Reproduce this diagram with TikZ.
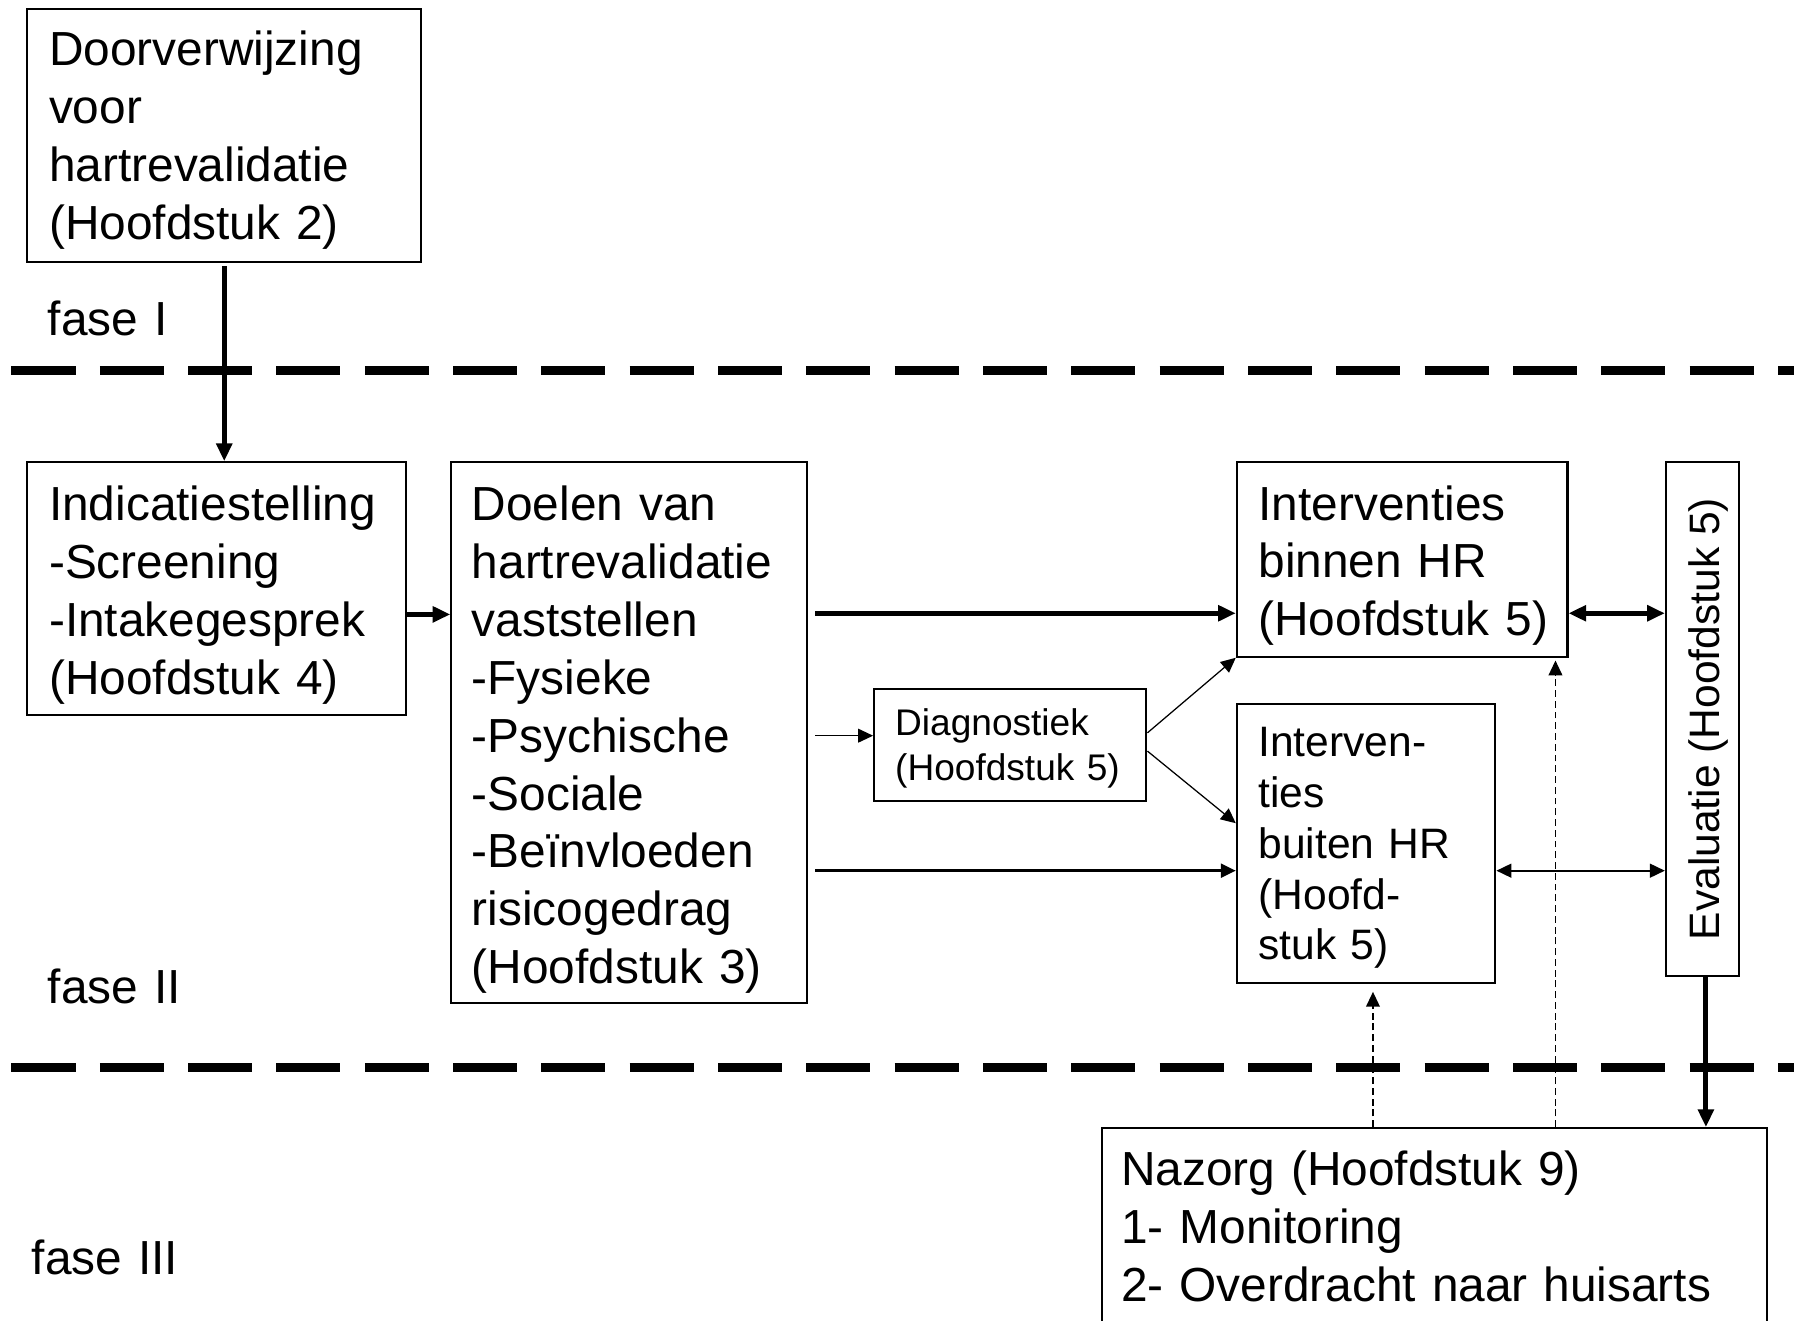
\documentclass[tikz,border=0pt]{standalone}
\usepackage{fontspec}
\setmainfont{Liberation Sans}
\usetikzlibrary{arrows.meta}
\newcommand\FontMain{\fontsize{20.9pt}{25.3pt}\selectfont}
\newcommand\FontMid{\fontsize{18.6pt}{22.25pt}\selectfont}
\newcommand\FontSmall{\fontsize{16.2pt}{19.5pt}\selectfont}
\tikzset{
  box/.style={draw, line width=0.9pt, inner sep=0pt, rectangle},
  txt/.style={inner sep=0pt, anchor=base west, align=left, text width=320pt, font=\FontMain},
  phaseline/.style={line width=4pt, dash pattern=on 28pt off 10.6pt},
  thickarrow/.style={line width=2.2pt, -{Triangle[length=7.75pt,width=6.75pt]}},
  thickboth/.style={line width=2.2pt, {Triangle[length=7.75pt,width=6.75pt]}-{Triangle[length=7.75pt,width=6.75pt]}},
  midarrow/.style={line width=1.1pt, -{Triangle[length=6.5pt,width=6pt]}},
  midboth/.style={line width=0.9pt, {Triangle[length=6.5pt,width=6pt]}-{Triangle[length=6.5pt,width=6pt]}},
  thinarrow/.style={line width=0.55pt, -{Triangle[length=6.5pt,width=6pt]}},
  dasharrow/.style={line width=0.65pt, dash pattern=on 3pt off 1.7pt, -{Triangle[length=6.5pt,width=6pt]}}
}
\begin{document}
\begin{tikzpicture}[x=0.5pt, y=-0.5pt]
\useasboundingbox (0,0) rectangle (1568,1154);
\clip (0,0) rectangle (1568,1154);

% phase separators
\draw[phaseline] (10,323.5) -- (1600,323.5);
\draw[phaseline] (10,933) -- (1600,933);

% phase labels
\node[txt] (f1) at (41.5,293) {fase I};
\node[txt] (f2) at (41.5,877) {fase II};
\node[txt] (f3) at (27.5,1113.5) {fase III};

% boxes
\node[box, minimum width=172pt, minimum height=110.5pt] (ref) at (196,118.5) {};
\node[box, minimum width=165.5pt, minimum height=110.5pt] (ind) at (189.5,514.5) {};
\node[box, minimum width=155.5pt, minimum height=236.5pt] (doel) at (550,640.5) {};
\node[box, minimum width=119pt, minimum height=49pt] (diag) at (883,651) {};
\node[box, minimum width=144.5pt, minimum height=85pt] (bin) at (1225.5,489) {};
\node[box, minimum width=113pt, minimum height=122pt] (bui) at (1194,737) {};
\node[box, minimum width=32pt, minimum height=224.5pt] (eval) at (1488,628.5) {};
\node[box, minimum width=290.5pt, minimum height=107pt] (naz) at (1253.5,1093) {};

% texts
\node[txt] (refT) at (42.5,57.5) {Doorverwijzing\\voor\\hartrevalidatie\\(Hoofdstuk 2)};
\node[txt] (indT) at (42.5,455) {Indicatiestelling\\-Screening\\-Intakegesprek\\(Hoofdstuk 4)};
\node[txt] (doelT) at (412,455) {Doelen van\\hartrevalidatie\\vaststellen\\-Fysieke\\-Psychische\\-Sociale\\-Beïnvloeden\\risicogedrag\\(Hoofdstuk 3)};
\node[txt, font=\FontSmall] (diagT) at (782,643) {Diagnostiek\\(Hoofdstuk 5)};
\node[txt] (binT) at (1099.5,454.5) {Interventies\\binnen HR\\(Hoofdstuk 5)};
\node[txt, font=\FontMid] (buiT) at (1099.5,661) {Interven-\\ties\\buiten HR\\(Hoofd-\\stuk 5)};
\node[rotate=90, anchor=base, inner sep=0pt, font=\FontMid] (evalT) at (1503,628.5) {Evaluatie (Hoofdstuk 5)};
\node[txt] (nazT) at (979.5,1036) {Nazorg (Hoofdstuk 9)\\1- Monitoring\\2- Overdracht naar huisarts};

% connectors
\draw[thickarrow, shorten <=1.3pt] (ref.south -| 196,0) -- (ind.north -| 196,0);
\draw[thickarrow] (ind.east |- 0,537) -- (doel.west |- 0,537);
\draw[thickarrow, shorten <=3pt] (doel.east |- 0,536) -- (bin.west |- 0,536);
\draw[thinarrow, shorten <=3pt] (doel.east |- 0,643) -- (diag.west |- 0,643);
\draw[midarrow, shorten <=3pt] (doel.east |- 0,761) -- (bui.west |- 0,761);
\draw[thinarrow] (diag.east |- 0,640.5) -- (bin.south west);
\draw[thinarrow] (diag.east |- 0,656.5) -- (bui.west |- 0,719.5);
\draw[thickboth] (bin.east |- 0,536) -- (eval.west |- 0,536);
\draw[midboth] (bui.east |- 0,761) -- (eval.west |- 0,761);
\draw[dasharrow, shorten >=3.5pt] (naz.north -| 1200,0) -- (bui.south -| 1200,0);
\draw[dasharrow, shorten >=1.2pt] (naz.north -| 1359.5,0) -- (bin.south -| 1359.5,0);
\draw[thickarrow] (eval.south -| 1491,0) -- (naz.north -| 1491,0);
\end{tikzpicture}
\end{document}
